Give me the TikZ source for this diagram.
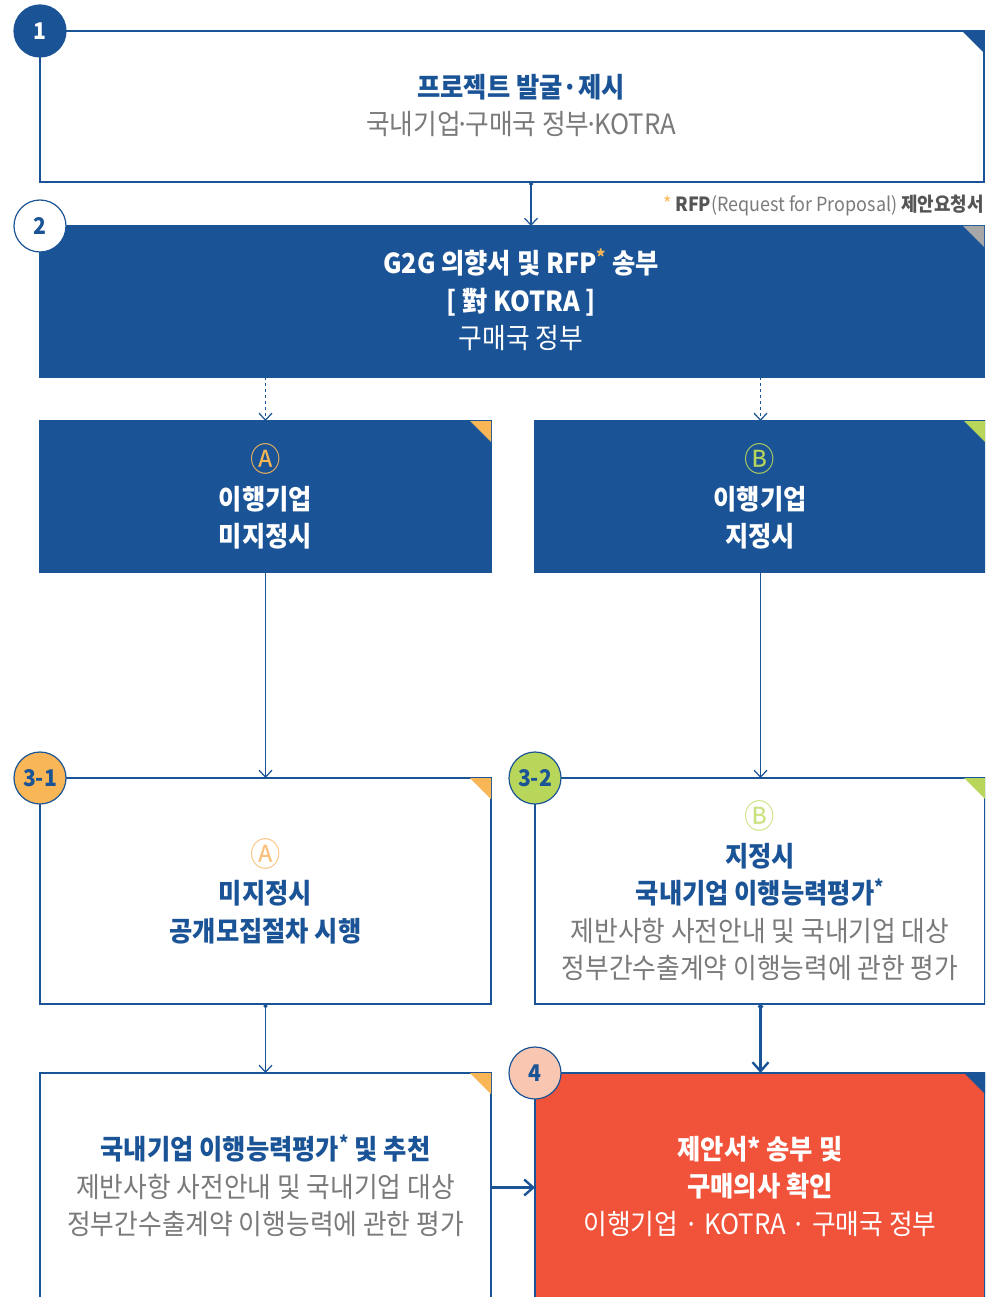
\documentclass[tikz,border=0pt]{standalone}
\usepackage{fontspec}
\setmainfont{Noto Sans CJK KR}[FakeStretch=0.92]
\usetikzlibrary{arrows.meta}
\definecolor{mblue}{HTML}{1B5496}
\definecolor{morange}{HTML}{F9B656}
\definecolor{mgreen}{HTML}{B8D65A}
\definecolor{lgreen}{HTML}{C9E27E}
\definecolor{lorange}{HTML}{FBC07A}
\definecolor{mred}{HTML}{F0523A}
\definecolor{mpeach}{HTML}{F9C7B1}
\definecolor{mgray}{HTML}{7A7A7A}
\definecolor{dgray}{HTML}{555555}
\definecolor{cgray}{HTML}{A7A7A7}
\newcommand\ftitle{\fontsize{27.5}{37.5}\selectfont\bfseries}
\newcommand\fsubt{\fontsize{28}{37.5}\selectfont\mdseries}
\newcommand\fcirc{\fontsize{33}{37.5}\selectfont\mdseries}
\newcommand\fnum{\fontsize{23}{24}\selectfont\bfseries}
\newcommand\ffoot{\fontsize{19.5}{22}\selectfont}
\newcommand\tdot{\kern-5pt·\kern-5pt}
\begin{document}
\begin{tikzpicture}[x=1pt,y=-1pt,
  box/.style={rectangle, draw=mblue, line width=1.3pt, inner sep=0pt, outer sep=0pt, anchor=north west, align=center, font=\fsubt},
  wbox/.style={box, fill=white},
  bbox/.style={box, fill=mblue, text=white},
  colbox/.style={minimum width=451pt},
  numc/.style={circle, draw=mblue, line width=1.2pt, minimum size=52pt, inner sep=0pt, font=\fnum},
  txt/.style={align=center, inner sep=0pt, font=\fsubt},
  arr/.style={draw=mblue, line width=1.2pt, -{Straight Barb[length=7pt,width=13pt,line width=1.2pt]}},
  dotarr/.style={draw=mblue, line width=1.2pt, {Circle[length=4pt]}-{Straight Barb[length=7pt,width=13pt,line width=1.2pt]}},
  thickarr/.style={draw=mblue, line width=2.4pt, {Circle[length=5pt]}-{Straight Barb[length=9pt,width=16pt,line width=2.4pt]}},
  harr/.style={draw=mblue, line width=2.4pt, -{Straight Barb[length=9pt,width=16pt,line width=2.4pt]}},
]
\useasboundingbox (0,0) rectangle (985,1297);
\clip (0,0) rectangle (985,1297);
\fill[white] (0,0) rectangle (985,1297);

% boxes
\node[wbox, minimum width=944pt, minimum height=151pt] (b1) at (40,31) {};
\node[bbox, minimum width=944pt, minimum height=151pt] (b2) at (40,226) {};
\node[bbox, colbox, minimum height=151pt] (bA) at (40,421)
  {\textcolor{morange}{\fcirc Ⓐ}\\ {\ftitle 이행기업}\\ {\ftitle 미지정시}};
\node[bbox, minimum width=450pt, minimum height=151pt] (bB) at (535,421)
  {\textcolor{mgreen}{\fcirc Ⓑ}\\ {\ftitle 이행기업}\\ {\ftitle 지정시}};
\node[wbox, colbox, minimum height=226pt] (b31) at (40,778)
  {\textcolor{lorange}{\fcirc Ⓐ}\\ \textcolor{mblue}{\ftitle 미지정시}\\ \textcolor{mblue}{\ftitle 공개모집절차 시행}};
\node[wbox, minimum width=450pt, minimum height=226pt] (b32) at (535,778)
  {\textcolor{lgreen}{\fcirc Ⓑ}\\ \textcolor{mblue}{\ftitle 지정시}\\ \textcolor{mblue}{\ftitle 국내기업 이행능력평가\textsuperscript{*}}\\
   \textcolor{mgray}{제반사항 사전안내 및 국내기업 대상}\\ \textcolor{mgray}{정부간수출계약 이행능력에 관한 평가}};
\node[wbox, colbox, minimum height=226pt] (bL) at (40,1073)
  {\textcolor{mblue}{\ftitle 국내기업 이행능력평가\textsuperscript{*} 및 추천}\\
   \textcolor{mgray}{제반사항 사전안내 및 국내기업 대상}\\ \textcolor{mgray}{정부간수출계약 이행능력에 관한 평가}};
\node[box, fill=mred, text=white, minimum width=450pt, minimum height=226pt] (b4) at (535,1073)
  {{\ftitle 제안서* 송부 및}\\ {\ftitle 구매의사 확인}\\ 이행기업 · KOTRA · 구매국 정부};

% texts of the wide boxes
\node[txt] (t1) at (521,105.5)
  {\textcolor{mblue}{\ftitle 프로젝트 발굴·제시}\\ \textcolor{mgray}{국내기업\tdot 구매국 정부\tdot KOTRA}};
\node[txt, text=white] (t2) at (521,300)
  {{\ftitle G2G 의향서 및 RFP\textsuperscript{\textcolor{morange}{*}} 송부}\\ {\ftitle [ 對 KOTRA ]}\\ 구매국 정부};

% footnote
\node[anchor=east, inner sep=0pt, font=\ffoot] (fn) at (984,205)
  {\textcolor{morange}{*}\,\textcolor{dgray}{\bfseries RFP}\textcolor{mgray}{(Request for Proposal)} \textcolor{dgray}{\bfseries 제안요청서}};

% corner triangles
\fill[mblue] (b1.north east) -- ++(-22,0) -- ++(22,22) -- cycle;
\fill[cgray] (b2.north east) -- ++(-21,0) -- ++(21,21) -- cycle;
\fill[morange] (bA.north east) -- ++(-21,0) -- ++(21,21) -- cycle;
\fill[mgreen] (bB.north east) -- ++(-21,0) -- ++(21,21) -- cycle;
\fill[morange] (b31.north east) -- ++(-21,0) -- ++(21,21) -- cycle;
\fill[mgreen] (b32.north east) -- ++(-21,0) -- ++(21,21) -- cycle;
\fill[morange] (bL.north east) -- ++(-21,0) -- ++(21,21) -- cycle;
\fill[mblue] (b4.north east) -- ++(-21,0) -- ++(21,21) -- cycle;

% number circles
\node[numc, fill=mblue, text=white] (c1) at (b1.north west) {1};
\node[numc, fill=white, text=mblue] (c2) at (b2.north west) {2};
\node[numc, fill=morange, text=mblue] (c31) at (b31.north west) {3-1};
\node[numc, fill=mgreen, text=mblue] (c32) at (b32.north west) {3-2};
\node[numc, fill=mpeach, text=mblue] (c4) at (b4.north west) {4};

% connectors
\draw[dotarr] ([xshift=19pt]b1.south) -- ([xshift=19pt]b2.north);
\draw[arr, dashed] (bA.north |- b2.south) -- (bA.north);
\draw[arr, dashed] ([xshift=0.5pt]bB.north |- b2.south) -- ([xshift=0.5pt]bB.north);
\draw[arr] (bA.south) -- (b31.north);
\draw[arr] ([xshift=0.5pt]bB.south) -- ([xshift=0.5pt]b32.north);
\draw[dotarr] (b31.south) -- (bL.north);
\draw[thickarr] ([xshift=0.5pt]b32.south) -- ([xshift=0.5pt]b4.north);
\draw[harr] ([yshift=-1.5pt]bL.east) -- ([yshift=-1.5pt]b4.west);
\end{tikzpicture}
\end{document}
